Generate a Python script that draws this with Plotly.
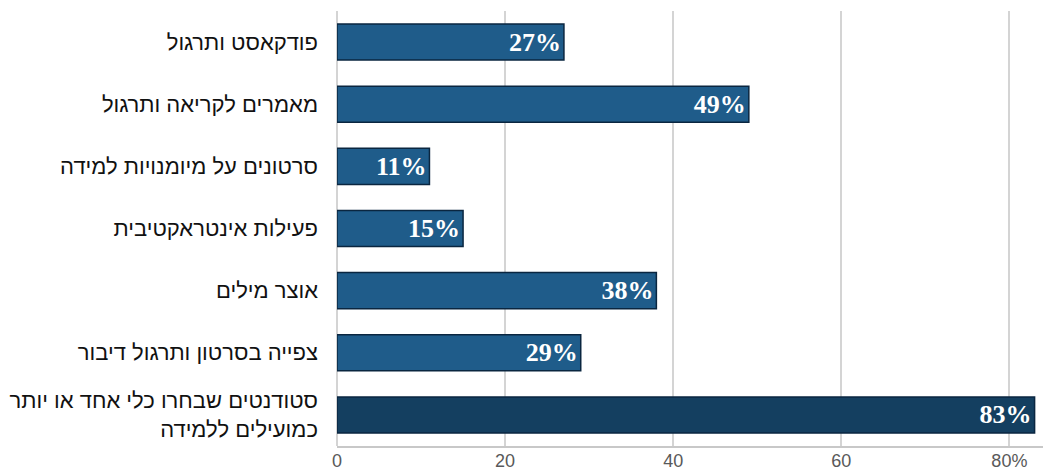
import plotly.graph_objects as go

# Learning tools rated useful by students (percent)
categories = [
    "פודקאסט ותרגול",
    "מאמרים לקריאה ותרגול",
    "סרטונים על מיומנויות למידה",
    "פעילות אינטראקטיבית",
    "אוצר מילים",
    "צפייה בסרטון ותרגול דיבור",
    "סטודנטים שבחרו כלי אחד או יותר<br>כמועילים ללמידה",
]
values = [27, 49, 11, 15, 38, 29, 83]
tick_values = [0, 20, 40, 60, 80]
tick_labels = ["0", "20", "40", "60", "80%"]

bar_colors = ["#1f5c8a"] * 6 + ["#143f60"]

fig = go.Figure(
    go.Bar(
        x=values,
        y=categories,
        orientation="h",
        width=0.58,
        marker=dict(color=bar_colors, line=dict(color="#0a2640", width=1.5)),
        text=[f"{v}%" for v in values],
        textposition="inside",
        insidetextanchor="end",
        textangle=0,
        textfont=dict(family="Liberation Serif", size=26, color="white", weight="bold"),
        constraintext="none",
        cliponaxis=False,
    )
)

fig.update_layout(
    width=1049,
    height=470,
    margin=dict(l=337, r=6, t=11, b=24),
    plot_bgcolor="white",
    paper_bgcolor="white",
    showlegend=False,
    uniformtext=dict(mode=False),
)

fig.update_xaxes(
    range=[0, 84],
    automargin=False,
    tickvals=tick_values,
    ticktext=tick_labels,
    showgrid=True,
    gridcolor="#d4d4d4",
    gridwidth=1.5,
    zeroline=True,
    zerolinecolor="#d4d4d4",
    zerolinewidth=1.5,
    showline=True,
    linecolor="#c8c8c8",
    linewidth=2,
    ticks="",
    ticklabelstandoff=-3,
    tickfont=dict(family="Liberation Sans", size=18, color="#595959"),
)

fig.update_yaxes(
    autorange="reversed",
    automargin=False,
    showgrid=False,
    showline=False,
    zeroline=False,
    ticks="",
    ticklabelstandoff=18,
    tickfont=dict(family="Liberation Sans", size=22, color="#111111"),
)

fig.write_html("out.html")
